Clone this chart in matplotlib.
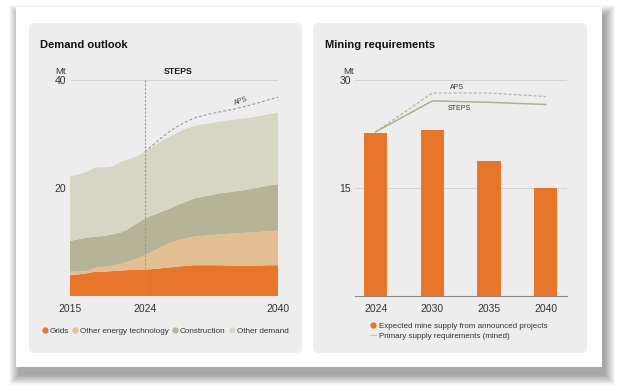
import matplotlib.pyplot as plt
import numpy as np
from matplotlib.patches import FancyBboxPatch
from matplotlib.lines import Line2D

plt.rcParams['font.family'] = ['Liberation Sans', 'DejaVu Sans']

W, H = 618, 391

# Demand outlook (Mt), 2015-2040, stacked layers
years = list(range(2015, 2041))
grids = [3.9, 4.0, 4.2, 4.5, 4.5, 4.6, 4.7, 4.8, 4.85, 4.9, 5.0, 5.15, 5.3,
         5.45, 5.6, 5.7, 5.7, 5.7, 5.7, 5.65, 5.6, 5.6, 5.6, 5.65, 5.7, 5.7]
other_energy = [0.6, 0.5, 0.4, 0.7, 0.9, 1.0, 1.2, 1.6, 2.05, 2.7, 3.3, 3.95, 4.5,
                4.85, 5.1, 5.3, 5.45, 5.6, 5.7, 5.85, 6.0, 6.1, 6.2, 6.25, 6.3, 6.4]
construction = [5.7, 6.0, 6.2, 5.8, 5.7, 5.8, 5.8, 6.0, 6.5, 6.8, 6.7, 6.5, 6.4,
                6.6, 6.8, 7.1, 7.25, 7.4, 7.6, 7.7, 7.8, 7.9, 8.1, 8.3, 8.5, 8.6]
other_demand = [11.9, 12.0, 12.2, 12.8, 12.7, 12.5, 13.1, 12.9, 12.4, 12.3, 12.7, 13.1, 13.3,
                13.4, 13.5, 13.4, 13.4, 13.3, 13.3, 13.3, 13.3, 13.3, 13.2, 13.2, 13.2, 13.2]
aps_years = list(range(2024, 2041))
aps_total = [26.7, 28.0, 29.3, 30.5, 31.5, 32.3, 33.0, 33.4, 33.8, 34.1, 34.4,
             34.7, 35.1, 35.5, 35.9, 36.4, 36.8]

# Mining requirements (Mt)
mine_years = ['2024', '2030', '2035', '2040']
mine_supply = [22.7, 23.1, 18.75, 15.0]
steps_req = [22.8, 27.1, 26.9, 26.6]
aps_req = [22.8, 28.2, 28.2, 27.7]

c_grids = '#E8762A'
c_energy = '#E3BE92'
c_constr = '#B6B496'
c_other = '#D7D6C4'
panel_c = '#EDEDED'


def fx(x):
    return x / W


def fy(y):
    return 1 - y / H


fig = plt.figure(figsize=(W / 100, H / 100), dpi=100)
fig.patch.set_facecolor('white')

# soft card shadow, mostly below and to the right
for i in range(14):
    g = i * 0.75
    fig.patches.append(FancyBboxPatch((fx(16 + 3 - g), fy(367 + 8 + g)),
                                      fx(586 + 2 * g), (360 + 2 * g) / H,
                                      boxstyle='square,pad=0', transform=fig.transFigure,
                                      facecolor='black', edgecolor='none',
                                      alpha=0.026, zorder=0))
fig.patches.append(FancyBboxPatch((fx(16), fy(367)), fx(586), 360 / H,
                                  boxstyle='square,pad=0', transform=fig.transFigure,
                                  facecolor='white', edgecolor='none', zorder=1))
for x0, x1 in [(29, 302), (313, 587)]:
    fig.patches.append(FancyBboxPatch((fx(x0), fy(353)), fx(x1 - x0), 330 / H,
                                      boxstyle='round,pad=0,rounding_size=0.012',
                                      transform=fig.transFigure,
                                      facecolor=panel_c, edgecolor='none', zorder=2))

# ---- left: demand outlook
ax1 = fig.add_axes([fx(70), fy(296), fx(208), 216 / H], zorder=5)
ax1.set_facecolor('none')
ax1.stackplot(years, grids, other_energy, construction, other_demand,
              colors=[c_grids, c_energy, c_constr, c_other], lw=0, zorder=2)
ax1.plot(aps_years, aps_total, color='#999999', lw=0.8, ls=(0, (2.5, 2)), zorder=3)
ax1.axvline(2024, color='#999999', lw=0.8, ls=(0, (2, 1.5)), zorder=4)
ax1.set_xlim(2015, 2040)
ax1.set_ylim(0, 40)
ax1.set_yticks([20, 40])
ax1.set_xticks([2015, 2024, 2040])
ax1.grid(axis='y', color='#D2D2D2', lw=0.6, zorder=0)
ax1.set_axisbelow(True)
ax1.tick_params(length=0, labelsize=7.5, colors='#333333', pad=3)
ax1.tick_params(axis='x', pad=6)
for s in ax1.spines.values():
    s.set_visible(False)
ax1.text(2035.6, 36.0, 'APS', fontsize=5, color='#444444', rotation=20,
         ha='center', va='center')
fig.text(fx(178), fy(71.5), 'STEPS', fontsize=6.3, fontweight='bold',
         ha='center', va='center', color='#1a1a1a', zorder=6)
fig.text(fx(55), fy(71), 'Mt', fontsize=6.8, ha='left', va='center', color='#333333',
         zorder=6)
fig.text(fx(40), fy(45.5), 'Demand outlook', fontsize=8, fontweight='bold',
         ha='left', va='center', color='#111111', zorder=6)

h1 = [Line2D([], [], marker='o', ls='', color=c, markersize=3.5)
      for c in [c_grids, c_energy, c_constr, c_other]]
leg1 = fig.legend(h1, ['Grids', 'Other energy technology', 'Construction', 'Other demand'],
                  loc='center left', bbox_to_anchor=(fx(42.5), fy(331)), ncol=4,
                  frameon=False, fontsize=5.9, handlelength=0.6, handletextpad=0.3,
                  columnspacing=0.45, borderpad=0, borderaxespad=0, labelcolor='#333333')
leg1.set_zorder(6)

# ---- right: mining requirements
ax2 = fig.add_axes([fx(355), fy(296), fx(211.7), 216 / H], zorder=5)
ax2.set_facecolor('none')
pos = np.arange(len(mine_years))
ax2.bar(pos, mine_supply, width=0.41, color=c_grids, zorder=2)
ax2.plot(pos, aps_req, color='#B9B69C', lw=0.9, ls=(0, (2.5, 1.5)), zorder=3)
ax2.plot(pos, steps_req, color='#B3AF8E', lw=1.1, zorder=3)
ax2.set_xlim(-0.365, 3.37)
ax2.set_ylim(0, 30)
ax2.set_yticks([15, 30])
ax2.set_xticks(pos)
ax2.set_xticklabels(mine_years)
ax2.grid(axis='y', color='#D2D2D2', lw=0.6, zorder=0)
ax2.set_axisbelow(True)
ax2.tick_params(length=0, labelsize=7.5, colors='#333333', pad=3)
ax2.tick_params(axis='x', pad=6)
for k, s in ax2.spines.items():
    s.set_visible(k == 'bottom')
ax2.spines['bottom'].set_color('#888888')
ax2.spines['bottom'].set_linewidth(0.8)
ax2.text(1.43, 28.9, 'APS', fontsize=5, color='#333333', ha='center', va='center')
ax2.text(1.47, 26.1, 'STEPS', fontsize=5, color='#333333', ha='center', va='center')
fig.text(fx(343), fy(71), 'Mt', fontsize=6.8, ha='left', va='center', color='#333333',
         zorder=6)
fig.text(fx(325), fy(45.5), 'Mining requirements', fontsize=8, fontweight='bold',
         ha='left', va='center', color='#111111', zorder=6)

h2 = [Line2D([], [], marker='o', ls='', color=c_grids, markersize=3.5),
      Line2D([], [], color='#C9C6AC', lw=0.8)]
leg2 = fig.legend(h2, ['Expected mine supply from announced projects',
                       'Primary supply requirements (mined)'],
                  loc='upper left', bbox_to_anchor=(fx(370), fy(322.5)), ncol=1,
                  frameon=False, fontsize=5.8, handlelength=0.7, handletextpad=0.4,
                  labelspacing=0.3, borderpad=0, borderaxespad=0, labelcolor='#333333')
leg2.set_zorder(6)

fig.savefig('out.png', dpi=100, facecolor='white')
